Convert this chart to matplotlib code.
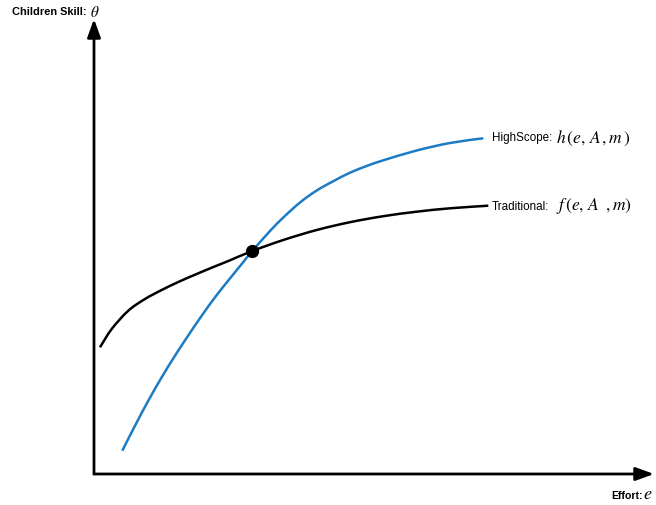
import matplotlib
matplotlib.use("Agg")
import matplotlib.pyplot as plt
import numpy as np
from matplotlib.path import Path
from matplotlib.patches import PathPatch

plt.rcParams['mathtext.fontset'] = 'stix'

# Effort (e) and skill (theta) readings, in axis units measured from origin
trad_e = [6, 17.7, 34.3, 51, 67.7, 84.3, 101, 117.7, 134.3, 158.3, 189.3, 222.7, 256, 289.3, 322.7, 356, 394.3]
trad_theta = [126.7, 145, 163.3, 175, 184, 192, 199.3, 206.3, 213, 223, 234, 244, 251.8, 257.8, 262.3, 265.7, 268.3]

high_e = [28.3, 41, 54.3, 67.7, 81, 94.3, 107.7, 121, 134.3, 147.7, 158.3, 176, 189.3, 206, 222.7, 239.3, 256, 272.7, 289.3, 322.7, 356, 389.3]
high_theta = [23.3, 48.3, 73.3, 96.7, 118.3, 138.6, 158.3, 176.7, 193.5, 210, 223, 243, 256.5, 271.5, 283.5, 292.8, 301.3, 308, 313.7, 323.5, 331, 335.7]

cross_e = [158.3]
cross_theta = [223]


def smooth_path(xs, ys):
    """Catmull-Rom curve drawn through the read points (as Bezier segments)."""
    p = np.column_stack([xs, ys]).astype(float)
    n = len(p)
    verts = [p[0]]
    codes = [Path.MOVETO]
    for i in range(n - 1):
        p0 = p[i - 1] if i > 0 else p[i]
        p1 = p[i]
        p2 = p[i + 1]
        p3 = p[i + 2] if i + 2 < n else p[i + 1]
        c1 = p1 + (p2 - p0) / 6.0
        c2 = p2 - (p3 - p1) / 6.0
        verts += [c1, c2, p2]
        codes += [Path.CURVE4] * 3
    return Path(verts, codes)


fig = plt.figure(figsize=(6.56, 5.06), dpi=100)
ax = fig.add_axes([0, 0, 1, 1])
ax.set_xlim(-94, 562)
ax.set_ylim(-31, 475)
ax.axis('off')

# axes arrows
arrow_kw = dict(arrowstyle='-|>,head_length=1.1,head_width=0.4', lw=2, color='black',
                shrinkA=0, shrinkB=0)
ax.annotate('', xy=(0, 455), xytext=(0, 0), arrowprops=arrow_kw)
ax.annotate('', xy=(560, 0), xytext=(0, 0), arrowprops=arrow_kw)

ax.add_patch(PathPatch(smooth_path(trad_e, trad_theta), fill=False,
                       edgecolor='black', lw=1.8, capstyle='butt'))
ax.add_patch(PathPatch(smooth_path(high_e, high_theta), fill=False,
                       edgecolor='#1b7bc4', lw=1.8, capstyle='butt'))
ax.plot(cross_e, cross_theta, 'o', color='black', markersize=8.5, zorder=5)

# labels
ax.text(-82, 463, 'Children Skill:', fontsize=7.9, fontweight='bold',
        family='Liberation Sans', va='center', ha='left')
ax.text(-4, 463, r'$\theta$', fontsize=11, va='center', ha='left')

ax.text(517, -21, 'Effort:', fontsize=7.6, fontweight='bold',
        family='Liberation Sans', va='center', ha='left')
ax.text(549, -19, r'$e$', fontsize=13, va='center', ha='left')

ax.text(398, 337, 'HighScope:', fontsize=8.4, family='Liberation Sans',
        va='center', ha='left')
ax.text(462, 337, r'$h\,(e,\,A\,,m\,)$', fontsize=12.5, va='center', ha='left')

ax.text(398, 268, 'Traditional:', fontsize=8.4, family='Liberation Sans',
        va='center', ha='left')
ax.text(462, 269, r'$f\,(e,\,A\;\;,m)$', fontsize=12.5, va='center', ha='left')

fig.savefig('out.png', dpi=100)
